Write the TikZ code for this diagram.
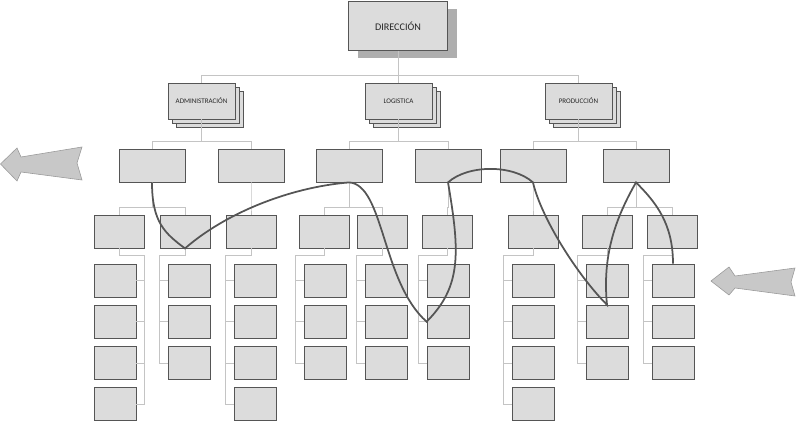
\documentclass[tikz,border=0pt]{standalone}
\usepackage{fontspec}
\setmainfont{Carlito}
\usepackage{xcolor}
\usepackage{tikz}
\usetikzlibrary{shadows}
\definecolor{boxfill}{HTML}{DCDCDC}
\definecolor{boxline}{HTML}{555555}
\definecolor{linkgray}{HTML}{C4C4C4}
\definecolor{shadegray}{HTML}{AEAEAE}
\definecolor{arrowfill}{HTML}{C8C8C8}
\definecolor{arrowline}{HTML}{9A9A9A}
\definecolor{routegray}{HTML}{555555}

\begin{document}
\begin{tikzpicture}[
    x=0.3mm, y=-0.3mm,
    box/.style={rectangle, draw=boxline, fill=boxfill, line width=0.7pt, inner sep=0pt, text=black!85},
    dirbox/.style={box, minimum width=29.7mm, minimum height=14.7mm, font=\fontsize{8.7}{9}\selectfont,
        general shadow={fill=shadegray, shadow xshift=2.8mm, shadow yshift=-2.4mm}},
    areabox/.style={box, minimum width=20.1mm, minimum height=10.8mm, font=\fontsize{6}{7}\selectfont,
        copy shadow={shadow xshift=2.4mm, shadow yshift=-2.4mm, fill=boxfill, draw=boxline},
        copy shadow={shadow xshift=1.2mm, shadow yshift=-1.2mm, fill=boxfill, draw=boxline}},
    unitbox/.style={box, minimum width=19.8mm, minimum height=9.9mm},
    subbox/.style={box, minimum width=15mm, minimum height=9.9mm},
    leafbox/.style={box, minimum width=12.6mm, minimum height=9.9mm},
    link/.style={draw=linkgray, line width=0.6pt},
    route/.style={draw=routegray, line width=1.5pt},
    bigarrow/.style={fill=arrowfill, draw=arrowline, line width=0.5pt}
]
    \useasboundingbox (0,0) rectangle (796,421);

    % top and areas
    \node [dirbox] (dir) at (398,26) {DIRECCIÓN};
    \node [areabox] (adm) at (201.5,101) {ADMINISTRACIÓN};
    \node [areabox] (log) at (398.5,101) {LOGISTICA};
    \node [areabox] (prod) at (578.5,101) {PRODUCCIÓN};

    % units
    \foreach \name/\cx in {u1/152, u2/251, u3/349, u4/448, u5/533, u6/636}
        \node [unitbox] (\name) at (\cx,165.5) {};
    \foreach \name/\cx in {a1/119, a2/185, a3/251, l1/324.5, l2/382, l3/447.5, p1/533, p2/607, p3/672}
        \node [subbox] (\name) at (\cx,231.5) {};
    \foreach \name/\cx/\n in {a1/115/4, a2/189/3, a3/255/4, l1/325/3, l2/386/3, l3/448/3, p1/533/4, p2/607/3, p3/673/3}
        \foreach \k in {1,...,\n}
            \node [leafbox] (\name-\k) at (\cx,{280.5+41.2*(\k-1)}) {};

    % org lines
    \foreach \t in {adm, log, prod}
        \draw [link] (dir.south) -- ++(0,24.5) -| (\t.north);
    \foreach \p/\c in {adm/u1, adm/u2, log/u3, log/u4, prod/u5, prod/u6}
        \draw [link] (\p.south) -- ++(0,22) -| (\c.north);
    \foreach \p/\c in {u1/a1, u1/a2, u2/a3, u3/l1, u3/l2, u4/l3, u5/p1, u6/p2, u6/p3}
        \draw [link] (\p.south) -- ++(0,25) -| (\c.north);
    \foreach \p/\n/\side/\sx in {a1/4/east/2.4mm, a2/3/west/-2.4mm, a3/4/west/-2.4mm, l1/3/west/-2.4mm, l2/3/west/-2.4mm, l3/3/west/-2.4mm, p1/4/west/-2.4mm, p2/3/west/-2.4mm, p3/3/west/-2.4mm} {
        \draw [link] (\p.south) -- ++(0,7) -| ([xshift=\sx]\p-\n.\side) -- (\p-\n.\side);
        \foreach \k in {1,...,\n}
            \draw [link] ([xshift=\sx]\p-\k.\side) -- (\p-\k.\side);
    }

    % route
    \draw [route] (u1.south) .. controls +(0,40) and +(-20,-15) .. (a2.south)
        .. controls +(40,-35) and +(-60,5) .. (u3.south)
        .. controls +(35,2) and +(-45,-40) .. (l3-2.west)
        .. controls +(35,-35) and +(12,70) .. (u4.south)
        .. controls +(20,-18) and +(-20,-18) .. (u5.south)
        .. controls +(8,35) and +(-30,-30) .. (p2-2.north)
        .. controls +(-5,-50) and +(-20,35) .. (u6.south)
        .. controls +(20,20) and +(0,-40) .. (p3-1.north);

    % side arrows
    \draw [bigarrow] (0.5,164) -- (17,148) -- (21,157) -- (82,147) -- (77,163) -- (82,180) -- (21,172) -- (17,181) -- cycle;
    \draw [bigarrow] (711,281) -- (729,267) -- (735,276) -- (795,268) -- (791,282) -- (795,296) -- (735,288) -- (729,295) -- cycle;
\end{tikzpicture}
\end{document}
